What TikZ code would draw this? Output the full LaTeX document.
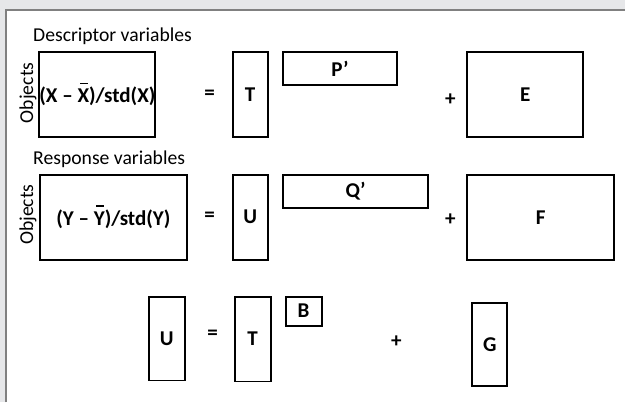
\documentclass[tikz,border=0pt]{standalone}
\usepackage{fontspec}
\setmainfont{Carlito}
\definecolor{fondo}{RGB}{230,231,233}
\definecolor{marco}{RGB}{128,128,128}
\newcommand{\ovbar}[1]{\leavevmode\rlap{\hspace{0.12em}\raisebox{0.9em}{\rule{0.36em}{0.07em}}}#1}
\begin{document}
\begin{tikzpicture}[
        matbox/.style={draw=black, line width=1.4pt, fill=white, inner sep=0pt, font=\fontsize{15}{17}\selectfont\bfseries},
        opsym/.style={font=\fontsize{15}{17}\selectfont\bfseries, inner sep=0pt},
        title/.style={font=\fontsize{14}{16}\selectfont, anchor=west, inner sep=0pt},
        sidelabel/.style={font=\fontsize{14}{16}\selectfont, rotate=90, inner sep=0pt}
    ]
        % Fondo y marco
        \fill[fondo] (0,0) rectangle (15.65,10.075);
        \fill[white] (0.15,0) rectangle (15.65,9.825);
        \draw[marco, line width=1.2pt] (0.15,0) -- (0.15,9.825) -- (15.65,9.825);
        \useasboundingbox (0,0) rectangle (15.65,10.075);

        % Variables descriptoras
        \node[title] (tdesc) at (0.825,9.175) {Descriptor variables};
        \node[sidelabel] (obj1) at (0.7,7.75) {Objects};
        \node[matbox, minimum width=2.875cm, minimum height=2.125cm] (X) at (2.4375,7.7125) {(X – \ovbar{X})/std(X)};
        \node[opsym] (eq1) at (5.25,7.7) {=};
        \node[matbox, minimum width=0.875cm, minimum height=2.125cm] (T1) at (6.2625,7.7125) {T};
        \node[matbox, minimum width=2.875cm, minimum height=0.825cm] (P) at (8.5125,8.3625) {P’};
        \node[opsym] (plus1) at (11.275,7.575) {+};
        \node[matbox, minimum width=2.9cm, minimum height=2.125cm] (E) at (13.15,7.7125) {E};

        % Variables respuesta
        \node[title] (tresp) at (0.825,6.1) {Response variables};
        \node[sidelabel] (obj2) at (0.7,4.7) {Objects};
        \node[matbox, minimum width=3.675cm, minimum height=2.125cm] (Y) at (2.8375,4.6375) {(Y – \ovbar{Y})/std(Y)};
        \node[opsym] (eq2) at (5.25,4.65) {=};
        \node[matbox, minimum width=0.875cm, minimum height=2.125cm] (U1) at (6.2625,4.6375) {U};
        \node[matbox, minimum width=3.65cm, minimum height=0.825cm] (Q) at (8.9,5.2875) {Q’};
        \node[opsym] (plus2) at (11.275,4.575) {+};
        \node[matbox, minimum width=3.675cm, minimum height=2.125cm] (F) at (13.5375,4.6375) {F};

        % Relacion interna
        \node[matbox, minimum width=0.9cm, minimum height=2.1cm] (U2) at (4.175,1.6) {U};
        \node[opsym] (eq3) at (5.325,1.7) {=};
        \node[matbox, minimum width=0.9cm, minimum height=2.125cm] (T2) at (6.325,1.5875) {T};
        \node[matbox, minimum width=0.9cm, minimum height=0.725cm] (B) at (7.6,2.2875) {B};
        \node[opsym] (plus3) at (9.925,1.525) {+};
        \node[matbox, minimum width=0.875cm, minimum height=2.1cm] (G) at (12.2625,1.45) {G};
    \end{tikzpicture}
\end{document}
